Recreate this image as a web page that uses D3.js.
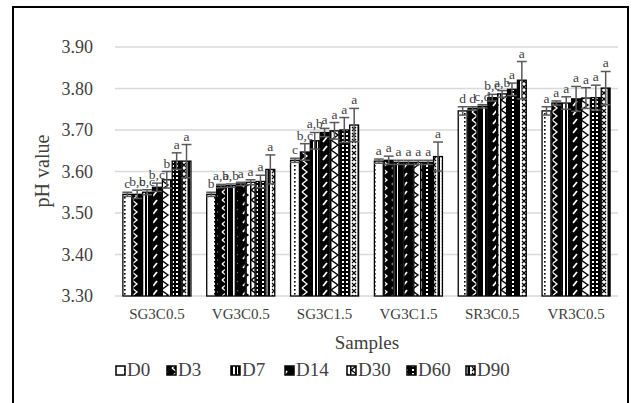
<!DOCTYPE html>
<html><head><meta charset="utf-8">
<script src="https://cdn.jsdelivr.net/npm/d3@7"></script>
<style>body{margin:0;background:#fff}svg{display:block}</style>
</head><body>
<svg id="c" width="638" height="403"></svg>
<script>
const categories = ["SG3C0.5","VG3C0.5","SG3C1.5","VG3C1.5","SR3C0.5","VR3C0.5"];
const seriesNames = ["D0","D3","D7","D14","D30","D60","D90"];
// values[series][category]
const D0  = [3.545,3.545,3.627,3.625,3.746,3.746];
const D3  = [3.545,3.565,3.647,3.627,3.752,3.765];
const D7  = [3.550,3.566,3.674,3.622,3.757,3.765];
const D14 = [3.562,3.570,3.694,3.622,3.778,3.775];
const D30 = [3.580,3.574,3.698,3.622,3.787,3.777];
const D60 = [3.625,3.576,3.700,3.622,3.798,3.778];
const D90 = [3.625,3.605,3.712,3.636,3.820,3.801];
const E0  = [0.005,0.005,0.005,0.005,0.010,0.010];
const E3  = [0.010,0.004,0.020,0.010,0.004,0.005];
const E7  = [0.006,0.004,0.020,0.005,0.004,0.015];
const E14 = [0.010,0.004,0.010,0.005,0.008,0.030];
const E30 = [0.020,0.006,0.020,0.005,0.008,0.025];
const E60 = [0.020,0.015,0.030,0.005,0.015,0.030];
const E90 = [0.040,0.035,0.040,0.035,0.045,0.040];
const L0  = ["c","b","c","a","d","a"];
const L3  = ["b,c","a,b","b,c","a","d","a"];
const L7  = ["b,c","a,b","a,b","a","c,d","a"];
const L14 = ["b,c","a","a","a","b,c","a"];
const L30 = ["b","a","a","a","a,b","a"];
const L60 = ["a","a","a","a","a","a"];
const L90 = ["a","a","a","a","a","a"];
const yTicks = [3.30,3.40,3.50,3.60,3.70,3.80,3.90];

const values = [D0,D3,D7,D14,D30,D60,D90];
const errs = [E0,E3,E7,E14,E30,E60,E90];
const letters = [L0,L3,L7,L14,L30,L60,L90];

const font = "'Liberation Serif','Times New Roman',serif";
const svg = d3.select("#c");

// patterns
const defs = svg.append("defs");
function pat(id, w, h, bg, draw){
  const p = defs.append("pattern").attr("id",id).attr("patternUnits","userSpaceOnUse")
    .attr("width",w).attr("height",h);
  p.append("rect").attr("width",w).attr("height",h).attr("fill",bg);
  draw(p);
}
pat("p0",10,4,"#fff",p=>{p.append("rect").attr("x",4).attr("y",1).attr("width",1.6).attr("height",1.6).attr("fill","#000");});
pat("p1",10,8,"#000",p=>{p.append("path").attr("d","M2,0 L7,4 L2,8").attr("stroke","#fff").attr("stroke-width",1.3).attr("fill","none");});
pat("p2",10,6,"#000",p=>{p.append("rect").attr("x",3).attr("y",0).attr("width",2).attr("height",6).attr("fill","#fff");p.append("rect").attr("x",7).attr("y",0).attr("width",1).attr("height",6).attr("fill","#fff");});
pat("p3",10,9,"#000",p=>{p.append("path").attr("d","M3,7 L7,2").attr("stroke","#fff").attr("stroke-width",1.8);});
pat("p4",10,10,"#fff",p=>{p.append("path").attr("d","M1,0 L8,5 L1,10").attr("stroke","#000").attr("stroke-width",1.4).attr("fill","none");p.append("rect").attr("x",0).attr("width",1.5).attr("height",10).attr("fill","#000");});
pat("p5",10,4,"#000",p=>{p.append("rect").attr("x",2).attr("y",1).attr("width",2).attr("height",2).attr("fill","#fff");p.append("rect").attr("x",6).attr("y",1).attr("width",2).attr("height",2).attr("fill","#fff");});
pat("p6",10,6,"#fff",p=>{p.append("path").attr("d","M2,1 L6,5 M6,1 L2,5").attr("stroke","#000").attr("stroke-width",1.2);p.append("rect").attr("x",7.5).attr("width",2.5).attr("height",6).attr("fill","#000");});

// frame
svg.append("rect").attr("x",13).attr("y",7).attr("width",615).attr("height",400)
  .attr("fill","none").attr("stroke","#000").attr("stroke-width",2);

const plot = {l:115,r:618,t:47,b:296};
const y = d3.scaleLinear().domain([3.3,3.9]).range([plot.b,plot.t]);
const x0 = d3.scaleBand().domain(categories).range([plot.l,plot.r]).paddingInner(1.5/8.5).paddingOuter(0.75/8.5);
const x1 = d3.scaleBand().domain(seriesNames).range([0,x0.bandwidth()]);

// gridlines
svg.append("g").selectAll("line").data(yTicks).join("line")
  .attr("x1",plot.l).attr("x2",plot.r).attr("y1",d=>y(d)).attr("y2",d=>y(d))
  .attr("stroke","#d9d9d9").attr("stroke-width",1.5);

// y axis labels
const yAxis = d3.axisLeft(y).tickValues(yTicks).tickFormat(d3.format(".2f")).tickSize(0).tickPadding(0);
const ya = svg.append("g").attr("transform","translate(93,0)").call(yAxis);
ya.select(".domain").remove();
ya.selectAll("text").attr("font-family",font).attr("font-size",18).attr("fill","#404040");

// x axis labels
const xAxis = d3.axisBottom(x0).tickSize(0).tickPadding(0);
const xa = svg.append("g").attr("transform","translate(0,308)").call(xAxis);
xa.select(".domain").remove();
xa.selectAll("text").attr("font-family",font).attr("font-size",15).attr("fill","#404040").attr("dy","0.71em");

// bars
const flat = [];
seriesNames.forEach((s,si)=>categories.forEach((c,ci)=>flat.push({s,si,c,v:values[si][ci],e:errs[si][ci],lab:letters[si][ci]})));
svg.append("g").selectAll("rect").data(flat).join("rect")
  .attr("x",d=>x0(d.c)+x1(d.s)+0.5).attr("width",x1.bandwidth()-1)
  .attr("y",d=>y(d.v)).attr("height",d=>y(3.3)-y(d.v))
  .attr("fill",d=>`url(#p${d.si})`).attr("stroke","#000").attr("stroke-width",1.3);

// error bars
const eg = svg.append("g").attr("stroke","#595959").attr("stroke-width",1.5);
flat.forEach(d=>{
  const cx = x0(d.c)+x1(d.s)+x1.bandwidth()/2;
  const hw = x1.bandwidth()/2;
  eg.append("line").attr("x1",cx).attr("x2",cx).attr("y1",y(d.v+d.e)).attr("y2",y(d.v-d.e));
  eg.append("line").attr("x1",cx-hw).attr("x2",cx+hw).attr("y1",y(d.v+d.e)).attr("y2",y(d.v+d.e));
  eg.append("line").attr("x1",cx-hw).attr("x2",cx+hw).attr("y1",y(d.v-d.e)).attr("y2",y(d.v-d.e));
});

// letters
svg.append("g").selectAll("text").data(flat).join("text")
  .attr("x",d=>x0(d.c)+x1(d.s)+x1.bandwidth()/2).attr("y",d=>y(d.v+d.e)-4)
  .attr("text-anchor","middle").attr("font-family",font).attr("font-size",13.5).attr("fill","#404040")
  .text(d=>d.lab);

// y title
svg.append("text").attr("transform","translate(49,171) rotate(-90)").attr("text-anchor","middle")
  .attr("font-family",font).attr("font-size",20).attr("fill","#404040").text("pH value");
// x title
svg.append("text").attr("x",367).attr("y",349).attr("text-anchor","middle")
  .attr("font-family",font).attr("font-size",19).attr("fill","#404040").text("Samples");

// legend
const legX = [116,167,231,285,347,407,466];
const lg = svg.append("g");
seriesNames.forEach((s,i)=>{
  lg.append("rect").attr("x",legX[i]).attr("y",366).attr("width",9).attr("height",9)
    .attr("fill",`url(#p${i})`).attr("stroke","#000").attr("stroke-width",1.5);
  lg.append("text").attr("x",legX[i]+11).attr("y",376).attr("font-family",font).attr("font-size",19)
    .attr("fill","#404040").text(s);
});
</script>
</body></html>
